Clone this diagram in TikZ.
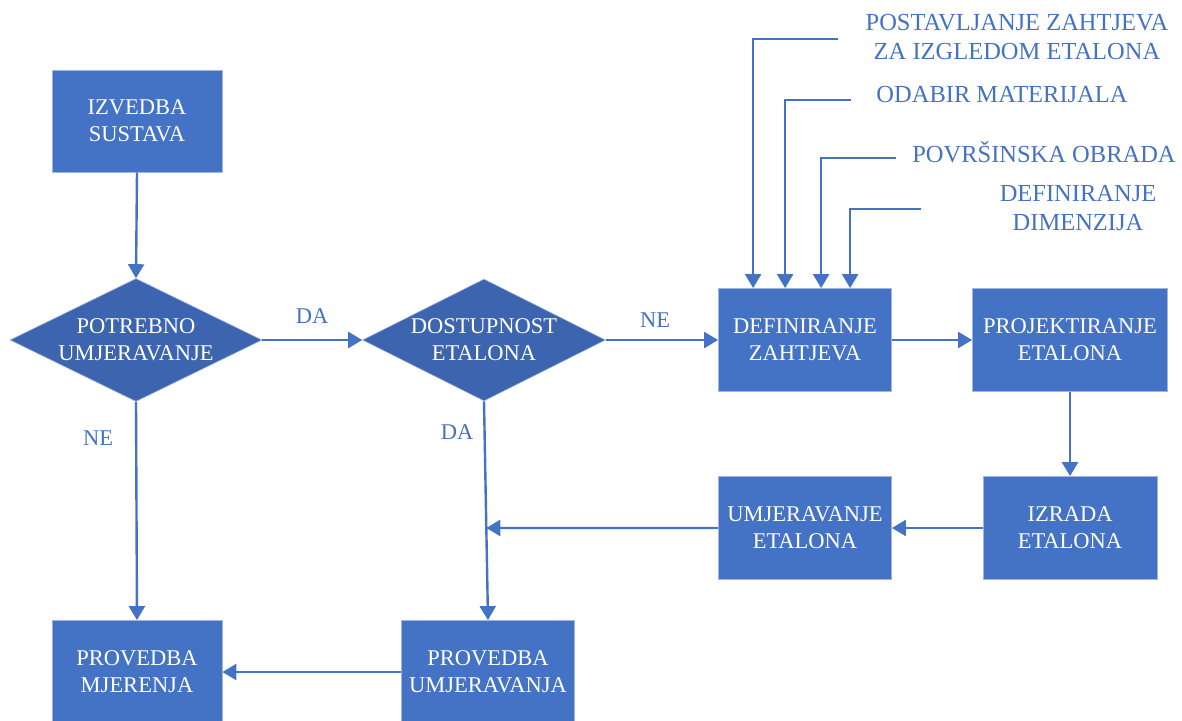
\documentclass[tikz,border=0pt]{standalone}
\usepackage{fontspec}
\setmainfont{Liberation Serif}
\usetikzlibrary{arrows.meta,shapes.geometric,calc}
\definecolor{boxblue}{HTML}{4472C4}
\definecolor{diablue}{HTML}{3D64AE}
\definecolor{edgeblue}{HTML}{9FB6E2}
\begin{document}
\begin{tikzpicture}[x=1pt,y=-1pt,
  txt/.style={font=\fontsize{22.5}{27}\selectfont, align=center},
  box/.style={txt, rectangle, fill=boxblue, draw=edgeblue, line width=0.8pt, text=white,
    minimum width=173pt, minimum height=103pt, inner sep=0pt},
  dia/.style={diamond, fill=diablue, draw=edgeblue, line width=0.6pt,
    minimum width=252pt, minimum height=123pt, inner sep=0pt},
  diatext/.style={txt, text=white, inner sep=0pt},
  lbl/.style={txt, text=boxblue, inner sep=0pt},
  biglbl/.style={font=\fontsize{24.5}{29}\selectfont, align=center, text=boxblue, inner sep=0pt},
  arr/.style={draw=boxblue, line width=2.4pt, -{Triangle[length=14pt,width=16pt]}}]
\useasboundingbox (0,0) rectangle (1182,720);

\node[box, minimum width=170pt, minimum height=102pt] (is) at (137,121) {IZVEDBA\\SUSTAVA};
\node[dia] (d1) at (136,340) {};
\node[diatext] (d1t) at (d1.center) {POTREBNO\\UMJERAVANJE};
\node[dia, minimum width=243pt, minimum height=122pt] (d2) at (484,340) {};
\node[diatext] (d2t) at (d2.center) {DOSTUPNOST\\ETALONA};
\node[box] (dz) at (805,340) {DEFINIRANJE\\ZAHTJEVA};
\node[box, minimum width=195pt] (pe) at (1070,340) {PROJEKTIRANJE\\ETALONA};
\node[box, minimum width=174pt] (ie) at (1070,528) {IZRADA\\ETALONA};
\node[box] (ue) at (805,528) {UMJERAVANJE\\ETALONA};
\node[box, minimum width=170pt] (pm) at (137,672) {PROVEDBA\\MJERENJA};
\node[box] (pu) at (488,672) {PROVEDBA\\UMJERAVANJA};

% labels
\node[lbl] (l1) at (312,316) {DA};
\node[lbl] (l2) at (655,320) {NE};
\node[lbl] (l3) at (98,438) {NE};
\node[lbl] (l4) at (457,432) {DA};

\node[biglbl] (t1) at (1017,37) {POSTAVLJANJE ZAHTJEVA\\ZA IZGLEDOM ETALONA};
\node[biglbl] (t2) at (1002,95) {ODABIR MATERIJALA};
\node[biglbl] (t3) at (1044,152) {POVRŠINSKA OBRADA};
\node[biglbl] (t4) at (1078,208) {DEFINIRANJE\\DIMENZIJA};

% connectors
\draw[arr] (is.south) -- (d1.north);
\draw[arr] (d1.east) -- (d2.west);
\draw[arr] (d2.east) -- (dz.west);
\draw[arr] (d1.south) -- (pm.north);
\draw[arr] (d2.south) -- (pu.north);
\coordinate (j) at (intersection of d2.south--pu.north and ue.west--ue.east);
\draw[arr] (ue.west) -- (j);
\draw[arr] (dz.east) -- (pe.west);
\draw[arr] (pe.south) -- (ie.north);
\draw[arr] (ie.west) -- (ue.east);
\draw[arr] (pu.west) -- (pm.east);

% input lines
\coordinate (s1) at (838,39);
\coordinate (s2) at (851,100);
\coordinate (s3) at (896,158);
\coordinate (s4) at (921,209);
\draw[arr] (s1) -| ([xshift=35pt]dz.north west);
\draw[arr] (s2) -| ([xshift=67pt]dz.north west);
\draw[arr] (s3) -| ([xshift=103pt]dz.north west);
\draw[arr] (s4) -| ([xshift=132pt]dz.north west);
\end{tikzpicture}
\end{document}
